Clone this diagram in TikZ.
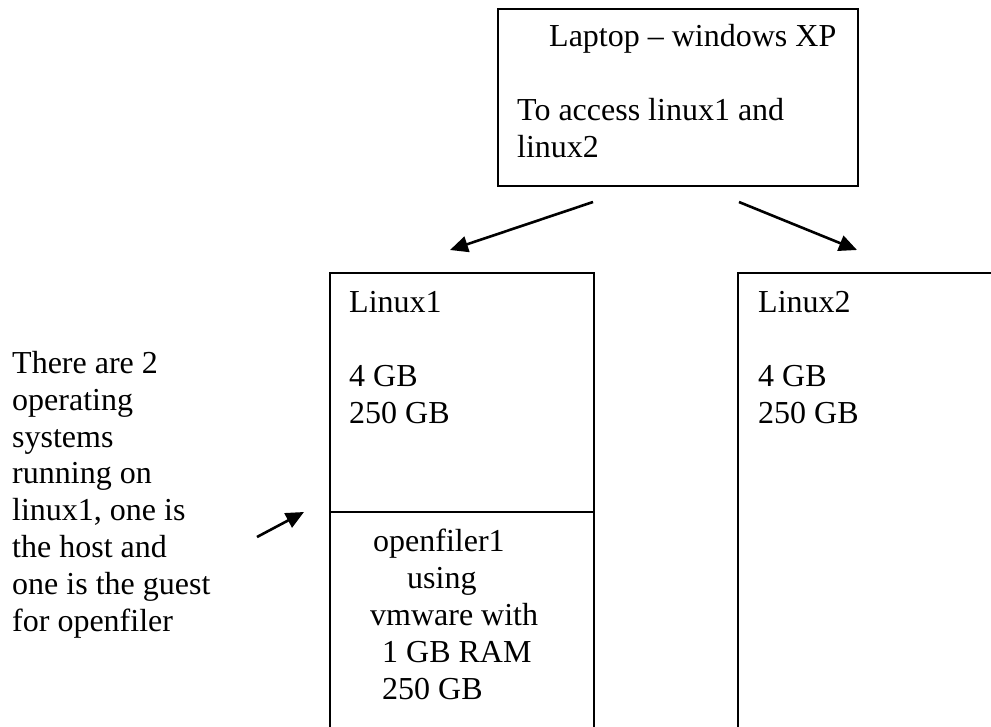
\documentclass[tikz,border=0pt]{standalone}
\usepackage{fontspec}
\setmainfont{Liberation Serif}
\usetikzlibrary{positioning, arrows.meta}

\tikzset{
  box/.style={draw, line width=2pt, rectangle, inner sep=0pt, anchor=north west},
  txt/.style={inner sep=0pt, anchor=base west, align=left,
    font=\fontsize{32pt}{36.8pt}\selectfont},
  arr/.style={line width=2.6pt, -{Triangle[length=18pt,width=16pt]}}
}

\begin{document}
\begin{tikzpicture}[x=1pt, y=-1pt]
\useasboundingbox (0,0) rectangle (991,726);
\clip (0,0) rectangle (991,726);
% boxes
\node[box, minimum width=360pt, minimum height=177pt] (laptop) at (497,8) {};
\node[box, minimum width=264pt, minimum height=480pt] (linux1) at (329,272) {};
\node[box, minimum width=280pt, minimum height=480pt] (linux2) at (737,272) {};
\coordinate (split) at (329,512);
\draw[line width=2pt] (split) -- (split -| linux1.east);
% texts (base = last line)
\node[txt] (laptoptext) at (517,157) {\hspace*{32pt}Laptop \textendash{} windows XP\\ \\To access linux1 and\\linux2};
\node[txt] (linuxonetext) at (349,423) {Linux1\\ \\4 GB\\250 GB};
\node[txt] (linuxtwotext) at (758,423) {Linux2\\ \\4 GB\\250 GB};
\node[txt] (guesttext) at (370,699) {\hspace*{3pt}openfiler1\\\hspace*{37pt}using\\vmware with\\\hspace*{12pt}1 GB RAM\\\hspace*{12pt}250 GB};
\node[txt] (note) at (12,631) {There are 2\\operating\\systems\\running on\\linux1, one is\\the host and\\one is the guest\\for openfiler};
% arrows
\draw[arr] ([shift={(96,15)}]laptop.south west) -- ([shift={(121,-22)}]linux1.north west);
\draw[arr] ([shift={(-120,15)}]laptop.south east) -- ([shift={(120,-22)}]linux2.north west);
\coordinate (ptr) at (257,537);
\draw[arr] (ptr) -- ([xshift=-25pt]split);
\end{tikzpicture}
\end{document}
